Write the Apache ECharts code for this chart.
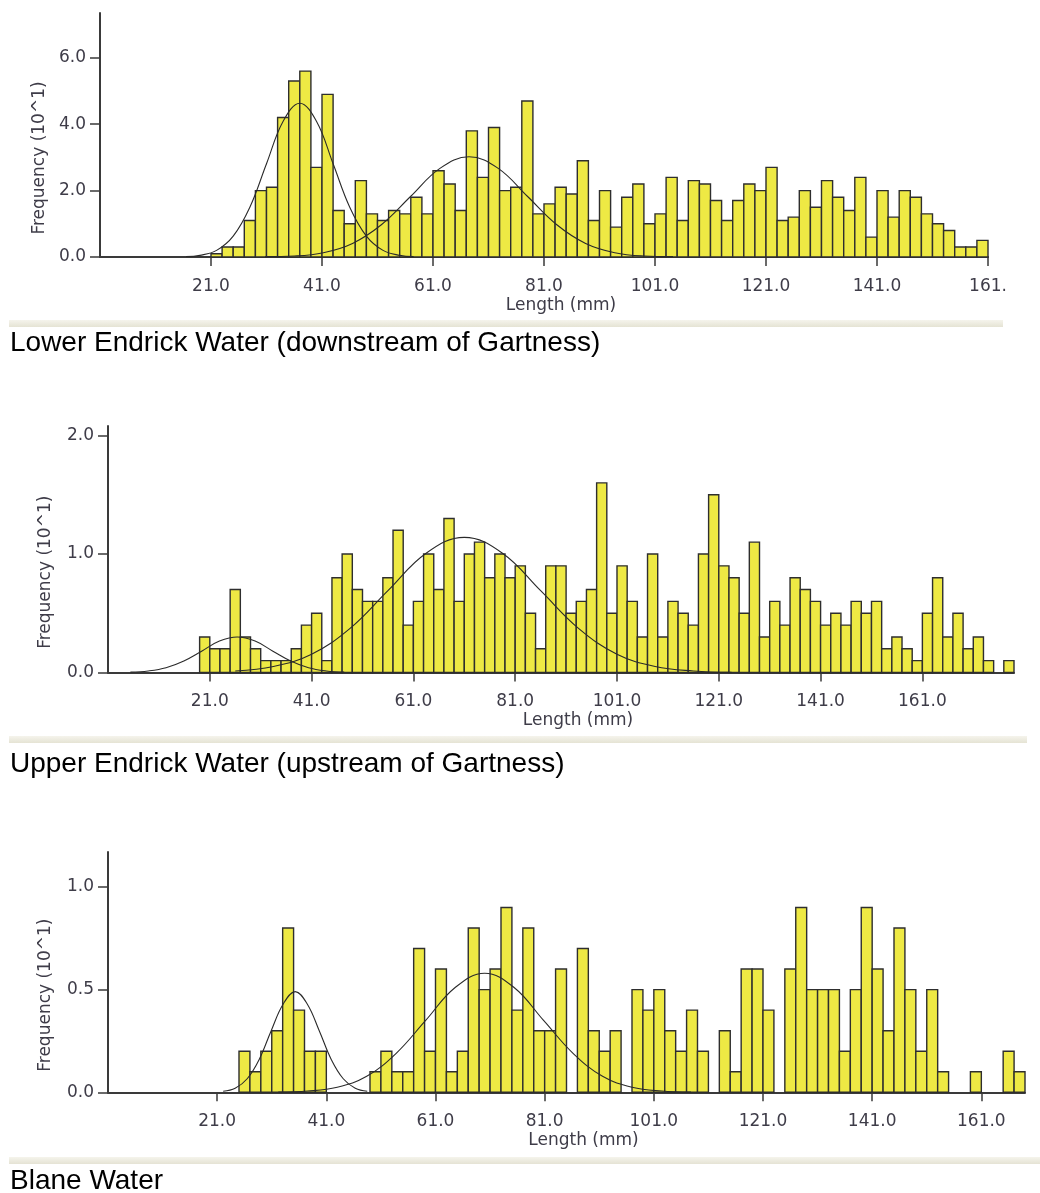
<!DOCTYPE html>
<html>
<head>
<meta charset="utf-8">
<title>Length-frequency histograms</title>
<script src="https://cdn.jsdelivr.net/npm/echarts@6/dist/echarts.min.js"></script>
<style>
  html, body { margin: 0; padding: 0; background: #ffffff; }
  #chart { width: 1040px; height: 1193px; }
</style>
</head>
<body>
<div id="chart"></div>
<script>
// Histogram bins are 2 mm wide; each list starts at its first bin's lower edge.
const binWidth = 2;

// Lower Endrick Water (downstream of Gartness)
const lowerFirstBin = 21;
const lowerCounts = [
  0.1, 0.3, 0.3, 1.1, 2.0, 2.1, 4.2, 5.3, 5.6, 2.7,
  4.9, 1.4, 1.0, 2.3, 1.3, 1.1, 1.4, 1.3, 1.8, 1.3,
  2.6, 2.2, 1.4, 3.8, 2.4, 3.9, 2.0, 2.1, 4.7, 1.3,
  1.6, 2.1, 1.9, 2.9, 1.1, 2.0, 0.9, 1.8, 2.2, 1.0,
  1.3, 2.4, 1.1, 2.3, 2.2, 1.7, 1.1, 1.7, 2.2, 2.0,
  2.7, 1.1, 1.2, 2.0, 1.5, 2.3, 1.8, 1.4, 2.4, 0.6,
  2.0, 1.2, 2.0, 1.8, 1.3, 1.0, 0.8, 0.3, 0.3, 0.5
];
const lowerFitA = [[16.5,0.01],[19,0.05],[22,0.20],[25,0.63],[28,1.50],[31,2.81],[34,4.09],[37,4.63],[40,4.09],[43,2.81],[46,1.50],[49,0.63],[52,0.20],[55,0.05],[57.5,0.01]];
const lowerFitB = [[30.75,0.01],[36,0.03],[41.25,0.13],[46.5,0.41],[51.75,0.98],[57,1.83],[62.25,2.67],[67.5,3.02],[72.75,2.67],[78,1.83],[83.25,0.98],[88.5,0.41],[93.75,0.13],[99,0.03],[104.25,0.01]];

// Upper Endrick Water (upstream of Gartness)
const upperFirstBin = 19;
const upperCounts = [
  0.3, 0.2, 0.2, 0.7, 0.3, 0.2, 0.1, 0.1, 0.1, 0.2,
  0.4, 0.5, 0.1, 0.8, 1.0, 0.7, 0.6, 0.6, 0.8, 1.2,
  0.4, 0.6, 1.0, 0.7, 1.3, 0.6, 1.0, 1.1, 0.8, 1.0,
  0.8, 0.9, 0.5, 0.2, 0.9, 0.9, 0.5, 0.6, 0.7, 1.6,
  0.5, 0.9, 0.6, 0.3, 1.0, 0.3, 0.6, 0.5, 0.4, 1.0,
  1.5, 0.9, 0.8, 0.5, 1.1, 0.3, 0.6, 0.4, 0.8, 0.7,
  0.6, 0.4, 0.5, 0.4, 0.6, 0.5, 0.6, 0.2, 0.3, 0.2,
  0.1, 0.5, 0.8, 0.3, 0.5, 0.2, 0.3, 0.1, 0,   0.1
];
const upperFitA = [[5.4,0.003],[8.9,0.013],[12.4,0.04],[15.9,0.097],[19.4,0.18],[22.9,0.265],[26.4,0.30],[29.9,0.265],[33.4,0.18],[36.9,0.097],[40.4,0.04],[43.9,0.013],[47.4,0.003]];
const upperFitB = [[26,0.013],[33.5,0.05],[41,0.154],[48.5,0.37],[56,0.69],[63.5,1.006],[71,1.14],[78.5,1.006],[86,0.69],[93.5,0.37],[101,0.154],[108.5,0.05],[116,0.013],[123.5,0.002]];

// Blane Water
const blaneFirstBin = 25;
const blaneCounts = [
  0.2, 0.1, 0.2, 0.3, 0.8, 0.4, 0.2, 0.2, 0,   0,
  0,   0,   0.1, 0.2, 0.1, 0.1, 0.7, 0.2, 0.6, 0.1,
  0.2, 0.8, 0.5, 0.6, 0.9, 0.4, 0.8, 0.3, 0.3, 0.6,
  0,   0.7, 0.3, 0.2, 0.3, 0,   0.5, 0.4, 0.5, 0.3,
  0.2, 0.4, 0.2, 0,   0.3, 0.1, 0.6, 0.6, 0.4, 0,
  0.6, 0.9, 0.5, 0.5, 0.5, 0.2, 0.5, 0.9, 0.6, 0.3,
  0.8, 0.5, 0.2, 0.5, 0.1, 0,   0,   0.1, 0,   0,
  0.2, 0.1
];
const blaneFitA = [[22.1,0.005],[24.3,0.02],[26.5,0.066],[28.7,0.16],[30.9,0.30],[33.1,0.43],[35.3,0.49],[37.5,0.43],[39.7,0.30],[41.9,0.16],[44.1,0.066],[46.3,0.02],[48.5,0.005]];
const blaneFitB = [[32.2,0.001],[37.6,0.006],[43,0.025],[48.4,0.078],[53.8,0.19],[59.2,0.35],[64.6,0.51],[70,0.58],[75.4,0.51],[80.8,0.35],[86.2,0.19],[91.6,0.078],[97,0.025],[102.4,0.006],[107.8,0.001]];

// Tick positions and labels
const xTicks = [21, 41, 61, 81, 101, 121, 141, 161];
const lowerXLabels = ['21.0', '41.0', '61.0', '81.0', '101.0', '121.0', '141.0', '161.'];
const otherXLabels = ['21.0', '41.0', '61.0', '81.0', '101.0', '121.0', '141.0', '161.0'];
const lowerYTicks = [0, 2, 4, 6];
const upperYTicks = [0, 1, 2];
const blaneYTicks = [0, 0.5, 1];

const captions = [
  'Lower Endrick Water (downstream of Gartness)',
  'Upper Endrick Water (upstream of Gartness)',
  'Blane Water'
];
const xAxisTitle = 'Length (mm)';
const yAxisTitle = 'Frequency (10^1)';

// ---- styling / layout ----
const AXIS_COLOR = '#3a3a3a';
const TEXT_COLOR = '#3e3c48';
const AXIS_FONT = '"DejaVu Sans", Verdana, sans-serif';
const BAR_FILL = '#eee944';
const BAR_EDGE = '#2e2e2e';

const panels = [
  { counts: lowerCounts, first: lowerFirstBin, fits: [lowerFitA, lowerFitB], xMax: 161, yMax: 7.35,
    yTicks: lowerYTicks, xLabels: lowerXLabels, grid: { left: 100, top: 13, width: 888, height: 244 }, yNameGap: 49 },
  { counts: upperCounts, first: upperFirstBin, fits: [upperFitA, upperFitB], xMax: 179, yMax: 2.08,
    yTicks: upperYTicks, xLabels: otherXLabels, grid: { left: 108, top: 426, width: 906, height: 246.5 }, yNameGap: 54 },
  { counts: blaneCounts, first: blaneFirstBin, fits: [blaneFitA, blaneFitB], xMax: 169, yMax: 1.17,
    yTicks: blaneYTicks, xLabels: otherXLabels, grid: { left: 108, top: 852, width: 917, height: 240.3 }, yNameGap: 54 }
];

function binData(first, counts) {
  return counts.map((v, i) => [first + i * binWidth, first + (i + 1) * binWidth, v]);
}

function renderBin(params, api) {
  const v = api.value(2);
  if (!v) return null;
  const topLeft = api.coord([api.value(0), v]);
  const bottomRight = api.coord([api.value(1), 0]);
  return {
    type: 'rect',
    shape: {
      x: topLeft[0],
      y: topLeft[1],
      width: bottomRight[0] - topLeft[0],
      height: bottomRight[1] - topLeft[1]
    },
    style: { fill: BAR_FILL, stroke: BAR_EDGE, lineWidth: 1.4 }
  };
}

const grids = [], xAxes = [], yAxes = [], series = [];

panels.forEach((p, k) => {
  grids.push(Object.assign({ containLabel: false }, p.grid));

  xAxes.push({
    type: 'value', gridIndex: k, min: 1, max: p.xMax,
    name: xAxisTitle, nameLocation: 'middle', nameGap: 40,
    nameTextStyle: { color: TEXT_COLOR, fontFamily: AXIS_FONT, fontSize: 17, padding: [0, 0, 0, 34] },
    axisLine: { show: true, onZero: false, lineStyle: { color: AXIS_COLOR, width: 2 } },
    axisTick: { show: true, length: 9, customValues: xTicks, lineStyle: { color: AXIS_COLOR, width: 1.5 } },
    axisLabel: {
      customValues: xTicks, margin: 21, color: TEXT_COLOR, fontFamily: AXIS_FONT, fontSize: 17,
      formatter: (v) => p.xLabels[xTicks.indexOf(v)]
    },
    splitLine: { show: false }
  });

  yAxes.push({
    type: 'value', gridIndex: k, min: 0, max: p.yMax,
    name: yAxisTitle, nameLocation: 'middle', nameGap: p.yNameGap, nameRotate: 90,
    nameTextStyle: { color: TEXT_COLOR, fontFamily: AXIS_FONT, fontSize: 17, padding: [0, 46, 0, 0] },
    axisLine: { show: true, lineStyle: { color: AXIS_COLOR, width: 2 } },
    axisTick: { show: true, length: 10, customValues: p.yTicks, lineStyle: { color: AXIS_COLOR, width: 1.5 } },
    axisLabel: {
      customValues: p.yTicks, margin: 14, color: TEXT_COLOR, fontFamily: AXIS_FONT, fontSize: 17,
      formatter: (v) => v.toFixed(1)
    },
    splitLine: { show: false }
  });

  series.push({
    type: 'custom', xAxisIndex: k, yAxisIndex: k,
    renderItem: renderBin,
    encode: { x: [0, 1], y: 2 },
    data: binData(p.first, p.counts),
    z: 2, silent: true
  });

  p.fits.forEach((fit) => {
    series.push({
      type: 'line', xAxisIndex: k, yAxisIndex: k,
      data: fit, smooth: 0.4, showSymbol: false, symbol: 'none',
      lineStyle: { color: '#2a2a2a', width: 1.1 },
      z: 3, silent: true
    });
  });
});

// Separator bands and captions under each chart
const bandGradient = {
  type: 'linear', x: 0, y: 0, x2: 0, y2: 1,
  colorStops: [{ offset: 0, color: '#f5f4ec' }, { offset: 1, color: '#e5e3d4' }]
};
const bands = [
  { x: 9, y: 320, w: 994 },
  { x: 9, y: 736, w: 1018 },
  { x: 9, y: 1157, w: 1031 }
];
const captionY = [343, 764, 1181];

const graphic = [];
bands.forEach((b, i) => {
  graphic.push({
    type: 'rect', shape: { x: b.x, y: b.y, width: b.w, height: 7 },
    style: { fill: bandGradient }, silent: true
  });
  graphic.push({
    type: 'text', x: 10, y: captionY[i],
    style: {
      text: captions[i], fill: '#000000', fontSize: 28,
      fontFamily: '"Liberation Sans", Arial, sans-serif', verticalAlign: 'middle', align: 'left'
    },
    silent: true
  });
});

const chart = echarts.init(document.getElementById('chart'), null, { renderer: 'canvas' });
chart.setOption({
  animation: false,
  backgroundColor: '#ffffff',
  grid: grids,
  xAxis: xAxes,
  yAxis: yAxes,
  series: series,
  graphic: graphic
});
</script>
</body>
</html>
